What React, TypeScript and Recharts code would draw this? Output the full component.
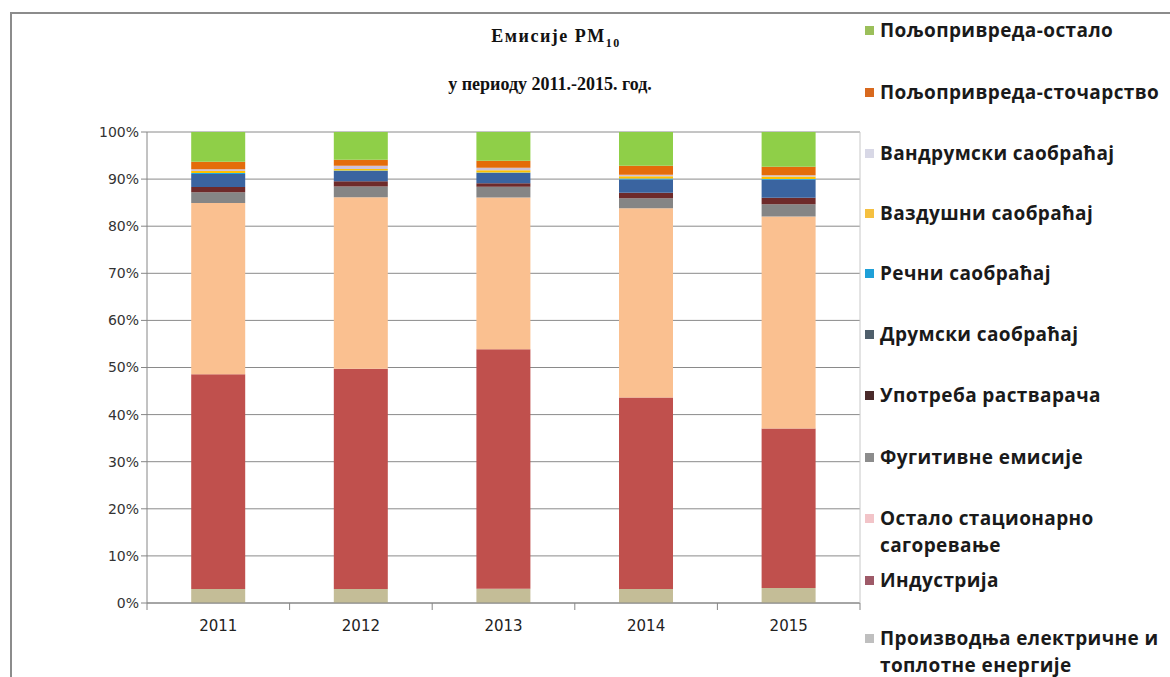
import React from "react";
import { BarChart, Bar, XAxis, YAxis, CartesianGrid, Legend } from "recharts";

const years = ["2011", "2012", "2013", "2014", "2015"];
const energy = [3.0, 3.0, 3.0, 3.0, 3.2];
const industry = [45.6, 46.9, 50.9, 40.7, 34.0];
const otherStat = [36.4, 36.5, 32.2, 40.3, 45.2];
const fugitive = [2.3, 2.3, 2.3, 2.1, 2.6];
const solvents = [1.1, 1.1, 0.7, 1.2, 1.4];
const road = [2.8, 2.2, 2.2, 2.8, 3.8];
const river = [0.2, 0.1, 0.1, 0.2, 0.2];
const air = [0.4, 0.3, 0.5, 0.5, 0.5];
const offroad = [0.4, 0.7, 0.5, 0.3, 0.3];
const livestock = [1.6, 1.3, 1.5, 1.9, 1.8];
const agriOther = [6.3, 5.9, 6.1, 7.2, 7.4];
const yTicks = [0, 0.1, 0.2, 0.3, 0.4, 0.5, 0.6, 0.7, 0.8, 0.9, 1];

const series = [
  { key: "energy", name: "Производња електричне и топлотне енергије", values: energy, color: "#C4BD97", marker: "#BFBFBF" },
  { key: "industry", name: "Индустрија", values: industry, color: "#C0504D", marker: "#9E5A68" },
  { key: "otherStat", name: "Остало стационарно сагоревање", values: otherStat, color: "#FAC090", marker: "#F2C4C8" },
  { key: "fugitive", name: "Фугитивне емисије", values: fugitive, color: "#858585", marker: "#8C8C8C" },
  { key: "solvents", name: "Употреба растварача", values: solvents, color: "#6E2A2A", marker: "#4A2A2A" },
  { key: "road", name: "Друмски саобраћај", values: road, color: "#3A64A0", marker: "#4F5F6B" },
  { key: "river", name: "Речни саобраћај", values: river, color: "#1FA8E0", marker: "#1FA0D8" },
  { key: "air", name: "Ваздушни саобраћај", values: air, color: "#FFC000", marker: "#F5C040" },
  { key: "offroad", name: "Вандрумски саобраћај", values: offroad, color: "#CCC1DA", marker: "#D8D8E6" },
  { key: "livestock", name: "Пољопривреда-сточарство", values: livestock, color: "#E46C0A", marker: "#D8691E" },
  { key: "agriOther", name: "Пољопривреда-остало", values: agriOther, color: "#8FCF48", marker: "#9BBF5A" },
];

const data = years.map((y, i) => {
  const row: Record<string, any> = { year: y };
  series.forEach((s) => (row[s.key] = s.values[i]));
  return row;
});

const legendLines: Record<string, string[]> = {
  otherStat: ["Остало стационарно", "сагоревање"],
  energy: ["Производња електричне и", "топлотне енергије"],
};

const LegendContent = () => {
  const items = [...series].reverse();
  const rowTops = [17, 79, 140, 200, 260, 321, 382, 444, 505, 567, 625];
  return (
    <div style={{ position: "relative", width: 309, height: 670 }}>
      {items.map((s, i) => {
        const lines = legendLines[s.key] || [s.name];
        return (
          <div key={s.key} style={{ position: "absolute", left: 0, top: rowTops[i] }}>
            <div style={{ position: "absolute", left: 4, top: 9, width: 9, height: 9, background: s.marker }} />
            {lines.map((l, j) => (
              <div
                key={j}
                style={{
                  position: "absolute",
                  left: 19,
                  top: j * 27,
                  whiteSpace: "nowrap",
                  fontFamily: "'Open Sans', sans-serif",
                  fontWeight: 700,
                  fontSize: 19,
                  letterSpacing: 0.4,
                  lineHeight: "26px",
                  color: "#1a1a1a",
                }}
              >
                {l}
              </div>
            ))}
          </div>
        );
      })}
    </div>
  );
};

const XTick = (props: any) => {
  const { x, y, payload, index } = props;
  const half = 71.3;
  return (
    <g>
      <line x1={x - half} x2={x - half} y1={y - 8} y2={y - 1} stroke="#868686" />
      {index === years.length - 1 && (
        <line x1={x + half} x2={x + half} y1={y - 8} y2={y - 1} stroke="#868686" />
      )}
      <text x={x} y={y + 20} textAnchor="middle" fontFamily="'DejaVu Sans', sans-serif" fontSize={15} fill="#222">
        {payload.value}
      </text>
    </g>
  );
};

export default function App() {
  return (
    <div style={{ position: "relative", width: 1170, height: 677, background: "#fff", overflow: "hidden" }}>
      <style>{`body{margin:0}`}</style>
      <div
        style={{
          position: "absolute",
          left: 10,
          top: 12,
          width: 1170,
          height: 680,
          borderTop: "2px solid #8c8c8c",
          borderLeft: "2px solid #8c8c8c",
        }}
      />
      <div
        style={{
          position: "absolute",
          left: 400,
          width: 300,
          top: 26,
          textAlign: "center",
          fontFamily: "'Liberation Serif', serif",
          fontWeight: 700,
          fontSize: 18,
          color: "#111",
        }}
      >
        <div style={{ height: 28, letterSpacing: 1.5, paddingLeft: 12 }}>
          Емисије PM<sub style={{ fontSize: 12 }}>10</sub>
        </div>
        <div style={{ marginTop: 20 }}>у периоду 2011.-2015. год.</div>
      </div>
      <div style={{ position: "absolute", left: 0, top: 0 }}>
        <BarChart
          width={1170}
          height={677}
          data={data}
          stackOffset="expand"
          barCategoryGap="31%"
          margin={{ top: 132, right: 0, bottom: 44, left: 87 }}
        >
          <CartesianGrid vertical={false} stroke="#8a8a8a" />
          <XAxis
            dataKey="year"
            tickLine={false}
            axisLine={{ stroke: "#868686" }}
            tick={<XTick />}
            height={30}
            interval={0}
          />
          <YAxis
            domain={[0, 1]}
            ticks={yTicks}
            tickFormatter={(v: number) => `${Math.round(v * 100)}%`}
            axisLine={{ stroke: "#868686" }}
            tickLine={{ stroke: "#868686" }}
            tickSize={6}
            width={60}
            tick={{ fontFamily: "'DejaVu Sans', sans-serif", fontSize: 14, fill: "#333" }}
          />
          <YAxis
            yAxisId="r"
            orientation="right"
            domain={[0, 1]}
            tick={false}
            tickLine={false}
            axisLine={{ stroke: "#c8c8c8" }}
            width={1}
          />
          <Legend
            layout="vertical"
            align="right"
            verticalAlign="top"
            content={<LegendContent />}
            wrapperStyle={{ right: 0, top: 0, width: 309 }}
          />
          {series.map((s) => (
            <Bar key={s.key} dataKey={s.key} name={s.name} stackId="a" fill={s.color} isAnimationActive={false} />
          ))}
        </BarChart>
      </div>
    </div>
  );
}
